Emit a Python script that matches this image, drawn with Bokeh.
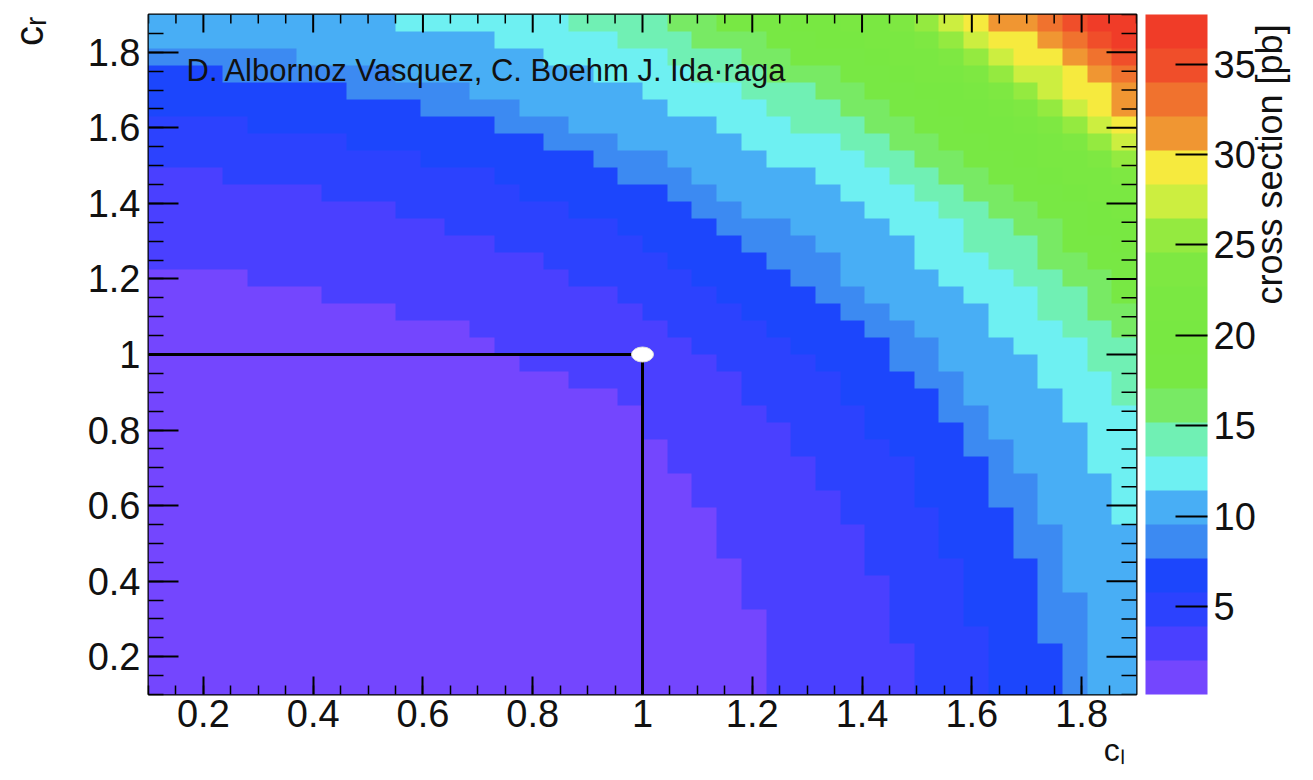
import numpy as np
from math import pi
from bokeh.plotting import figure
from bokeh.models import (Range1d, LinearColorMapper, ColorBar, FixedTicker, LinearAxis,
                          Label, CustomJSTickFormatter, SingleIntervalTicker)
from bokeh.embed import file_html
from bokeh.resources import INLINE

# ---------------- data ----------------
# histogram binning (c_l and c_r axes)
axis_min, axis_max, n_bins = 0.1, 1.9, 40

# colour-scale contour levels (cross section in pb), 20 bands
levels = [0.14, 2.02, 3.90, 5.78, 7.66, 9.54, 11.42, 13.30, 15.18, 17.06, 18.94,
          20.82, 22.70, 24.58, 26.46, 28.34, 30.22, 32.10, 33.98, 35.86, 37.74]

# for every c_r row (bottom -> top): column index where band 1, 2, 3, ... starts
band_start_cols = [
    [25, 31, 34, 37, 38],
    [25, 31, 34, 37, 38],
    [25, 31, 34, 37, 38],
    [25, 30, 34, 36, 38],
    [25, 30, 33, 36, 38],
    [24, 30, 33, 36, 38],
    [24, 30, 33, 36, 37],
    [24, 29, 33, 36, 37],
    [23, 29, 32, 35, 37],
    [23, 29, 32, 35, 37],
    [23, 28, 32, 35, 36, 39],
    [22, 28, 31, 34, 36, 39],
    [22, 27, 31, 34, 36, 39],
    [21, 27, 31, 34, 35, 38],
    [21, 26, 30, 33, 35, 38],
    [20, 26, 29, 33, 34, 38],
    [20, 25, 29, 32, 34, 37],
    [19, 24, 28, 32, 33, 37, 39],
    [17, 24, 28, 31, 33, 36, 39],
    [15, 23, 27, 30, 32, 36, 38],
    [14, 22, 26, 30, 32, 35, 38],
    [13, 21, 25, 29, 31, 34, 37, 39],
    [10, 20, 24, 28, 30, 34, 36, 38],
    [7, 19, 23, 27, 29, 33, 36, 38, 39],
    [4, 17, 22, 26, 28, 32, 35, 37, 39],
    [0, 16, 21, 25, 28, 31, 34, 36, 38],
    [0, 14, 20, 24, 27, 31, 33, 36, 37, 39],
    [0, 12, 19, 23, 26, 30, 33, 35, 37, 38],
    [0, 10, 17, 22, 24, 29, 32, 34, 36, 38, 39],
    [0, 7, 15, 21, 23, 28, 31, 33, 35, 37, 38],
    [0, 3, 14, 19, 22, 27, 30, 32, 34, 36, 37, 39],
    [0, 0, 11, 18, 21, 25, 29, 31, 33, 35, 36, 38, 39],
    [0, 0, 8, 16, 19, 24, 28, 30, 32, 34, 36, 37, 38, 39],
    [0, 0, 4, 14, 17, 23, 26, 29, 31, 33, 35, 36, 37, 38, 39],
    [0, 0, 0, 11, 15, 21, 25, 28, 30, 32, 34, 35, 36, 37, 38, 39],
    [0, 0, 0, 8, 13, 20, 24, 27, 29, 31, 33, 34, 35, 36, 37, 39],
    [0, 0, 0, 3, 10, 18, 22, 25, 28, 30, 31, 33, 34, 35, 37, 38, 39],
    [0, 0, 0, 0, 6, 16, 21, 24, 26, 29, 30, 32, 33, 34, 35, 37, 38, 39],
    [0, 0, 0, 0, 0, 14, 19, 22, 25, 27, 29, 31, 32, 33, 34, 36, 37, 38, 39],
    [0, 0, 0, 0, 0, 10, 17, 21, 23, 26, 28, 30, 31, 32, 33, 34, 36, 37, 38],
]

# Standard-Model point
sm_cl = [1.0]
sm_cr = [1.0]

axis_ticks = [0.2, 0.4, 0.6, 0.8, 1.0, 1.2, 1.4, 1.6, 1.8]
minor_step = 0.05
cbar_ticks = [5, 10, 15, 20, 25, 30, 35]

author_text = "D. Albornoz Vasquez, C. Boehm  J. Ida\u00b7raga"
x_title = "c\u2097"
y_title = "c\u1d63"
cbar_title = "cross section [pb]"

palette = ["#7446fe", "#4a40ff", "#2c42fe", "#1c46fc", "#3c8af2", "#48aef5",
           "#6ef0f2", "#70f0b4", "#78ea64", "#78e844", "#78e842", "#7ae842",
           "#7ee842", "#94ea40", "#ccee40", "#f6ea3e", "#f09632", "#f0722e",
           "#f04e2a", "#f03c28"]

# ---------------- build the histogram array ----------------
band_mid = [(levels[k] + levels[k + 1]) / 2 for k in range(len(levels) - 1)]
z = np.zeros((n_bins, n_bins))
for j, starts in enumerate(band_start_cols):
    for i in range(n_bins):
        k = sum(1 for s in starts if s <= i)
        z[j, i] = band_mid[k]

FONT = "Liberation Sans"
INK = "#111111"
NBSP = "\u00a0"

p = figure(width=1313, height=780,
           x_range=Range1d(axis_min, axis_max), y_range=Range1d(axis_min, axis_max),
           output_backend="svg", toolbar_location=None,
           min_border_left=148, min_border_right=177, min_border_top=14, min_border_bottom=86)
p.background_fill_color = "white"
p.border_fill_color = "white"
p.outline_line_color = "black"
p.outline_line_width = 2
p.grid.visible = False

mapper = LinearColorMapper(palette=palette, low=levels[0], high=levels[-1])
p.image(image=[z], x=axis_min, y=axis_min, dw=axis_max - axis_min, dh=axis_max - axis_min,
        color_mapper=mapper)

# SM lines and point
p.segment(x0=[axis_min, sm_cl[0]], y0=[sm_cr[0], axis_min],
          x1=[sm_cl[0], sm_cl[0]], y1=[sm_cr[0], sm_cr[0]],
          line_color="black", line_width=3)
p.ellipse(x=sm_cl, y=sm_cr, width=22, height=15, width_units="screen", height_units="screen",
          fill_color="white", line_color="#e0e0e0", line_width=1)

# inward ticks on the top and right edges of the frame (clipped half-dashes)
minor_vals = [round(v, 4) for v in np.arange(axis_min, axis_max + 1e-9, minor_step)
              if all(abs(v - t) > 1e-6 for t in axis_ticks)]
n_maj, n_min = len(axis_ticks), len(minor_vals)
p.scatter(x=axis_ticks, y=[axis_max] * n_maj, marker="dash", angle=pi / 2, size=36,
          line_color="black", line_width=2)
p.scatter(x=minor_vals, y=[axis_max] * n_min, marker="dash", angle=pi / 2, size=18,
          line_color="black", line_width=1.5)
p.scatter(x=[axis_max] * n_maj, y=axis_ticks, marker="dash", size=60,
          line_color="black", line_width=2)
p.scatter(x=[axis_max] * n_min, y=minor_vals, marker="dash", size=30,
          line_color="black", line_width=1.5)

fmt = CustomJSTickFormatter(code="return String(Number(tick.toFixed(2)));")


def style_axis(ax, tick_major, tick_minor):
    ax.ticker = SingleIntervalTicker(interval=0.2, num_minor_ticks=4)
    ax.formatter = fmt
    ax.axis_line_color = None
    ax.major_tick_in = tick_major
    ax.major_tick_out = 0
    ax.minor_tick_in = tick_minor
    ax.minor_tick_out = 0
    ax.major_tick_line_color = "black"
    ax.minor_tick_line_color = "black"
    ax.major_tick_line_width = 2
    ax.minor_tick_line_width = 1.5
    ax.major_label_text_font = FONT
    ax.major_label_text_color = INK
    ax.major_label_text_font_size = "38px"


style_axis(p.xaxis[0], 18, 9)
p.xaxis[0].major_label_standoff = 5
style_axis(p.yaxis[0], 30, 15)
p.yaxis[0].major_label_standoff = 8

HAS_ALIGN = "axis_label_align" in LinearAxis.properties()


def title_axis(text, size, standoff, orientation="parallel", align="end"):
    ax = LinearAxis(ticker=FixedTicker(ticks=[]), axis_label=text,
                    axis_line_color=None, major_tick_out=0, major_tick_in=0,
                    minor_tick_out=0, minor_tick_in=0, major_label_standoff=0,
                    axis_label_standoff=standoff, axis_label_orientation=orientation,
                    axis_label_text_font=FONT, axis_label_text_font_size=size,
                    axis_label_text_font_style="normal", axis_label_text_color=INK)
    if HAS_ALIGN:
        try:
            ax.axis_label_align = align
        except Exception:
            pass
    return ax


# axis titles placed through extra tick-less axes in the side panels
# (non-breaking spaces only shift the centred titles along their axis)
p.add_layout(title_axis(x_title + NBSP * 5, "32px", 2), "below")
p.add_layout(title_axis(y_title + NBSP * 3, "40px", 34), "left")

cb = ColorBar(color_mapper=mapper, ticker=FixedTicker(ticks=cbar_ticks),
              width=62, height=680, location=(9, 0), padding=0, margin=0,
              bar_line_color=None, border_line_color=None, background_fill_color=None,
              major_tick_in=32, major_tick_out=0, major_tick_line_color="black",
              major_tick_line_width=2, minor_tick_line_color=None,
              label_standoff=6, major_label_text_font=FONT,
              major_label_text_font_size="38px", major_label_text_color=INK)
p.add_layout(cb, "right")
p.add_layout(title_axis(NBSP * 5 + cbar_title, "36px", 11, orientation=pi / 2,
                        align="center"), "right")

# author label inside the frame
p.add_layout(Label(x=38, y=624, x_units="screen", y_units="screen", text=author_text,
                   text_font=FONT, text_font_size="31px", text_color=INK,
                   text_baseline="alphabetic"))

open("out.html", "w").write(file_html(p, INLINE))
